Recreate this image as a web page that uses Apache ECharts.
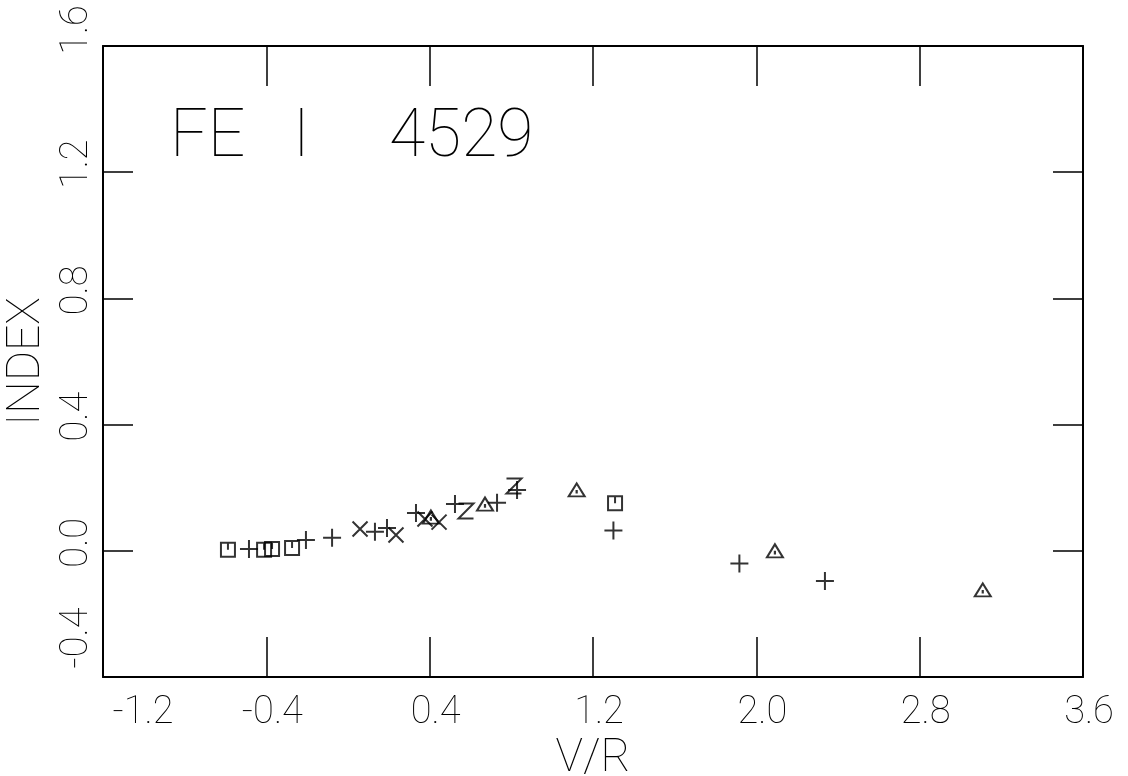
<!DOCTYPE html>
<html>
<head>
<meta charset="utf-8">
<script src="https://cdn.jsdelivr.net/npm/echarts@6/dist/echarts.min.js"></script>
<style>
html,body{margin:0;padding:0;background:#fff;}
#chart{width:1128px;height:776px;}
</style>
</head>
<body>
<div id="chart"></div>
<script>
// ---- data ----
const titleText = "FE   I     4529";
const xName = "V/R";
const yName = "INDEX";
const xTicks = [-1.2, -0.4, 0.4, 1.2, 2.0, 2.8, 3.6];
const yTicks = [-0.4, 0.0, 0.4, 0.8, 1.2, 1.6];

const plusPts = [
  [-0.485, 0.006], [-0.206, 0.034], [-0.078, 0.041], [0.132, 0.060],
  [0.191, 0.072], [0.333, 0.120], [0.524, 0.148], [0.730, 0.152],
  [0.828, 0.193], [1.300, 0.064], [1.917, -0.040], [2.336, -0.096]
];
const squarePts = [
  [-0.588, 0.003], [-0.411, 0.003], [-0.372, 0.006], [-0.274, 0.009], [1.308, 0.151]
];
const trianglePts = [
  [0.406, 0.107], [0.671, 0.148], [1.120, 0.193], [2.091, 0.000], [3.109, -0.124]
];
const xPts = [
  [0.059, 0.069], [0.235, 0.050], [0.377, 0.101], [0.446, 0.091]
];
const zPts = [
  [0.578, 0.126], [0.813, 0.205]
];

// ---- chart ----
const FONT = 'Roboto';
const chart = echarts.init(document.getElementById('chart'), null, {renderer: 'canvas'});
const markStyle = {color: 'transparent', borderColor: '#000', borderWidth: 2};
function sc(name, data, symbol, size) {
  return {
    type: 'scatter', name: name, data: data, symbol: symbol, symbolSize: size,
    itemStyle: markStyle, emphasis: {disabled: true}, silent: true
  };
}
const fmt = v => (Math.abs(v) < 1e-9 ? 0 : v).toFixed(1);
const near = (a, b) => Math.abs(a - b) < 1e-9;
const xFmt = v => (near(v, xTicks[0]) ? '{first|' : '{n|') + fmt(v) + '}';
const yFmt = v => (near(v, yTicks[0]) ? '{first|' : near(v, yTicks[yTicks.length - 1]) ? '{last|' : '{n|') + fmt(v) + '}';
const lineStyle = {color: '#000', width: 2};
const labelFont = {fontFamily: FONT, fontSize: 38, fontWeight: 100, color: '#000'};
const padL = p => Object.assign({padding: [0, 0, 0, p]}, labelFont);

chart.setOption({
  animation: false,
  backgroundColor: '#fff',
  title: {
    text: titleText, left: 165, top: 101,
    textStyle: {fontFamily: FONT, fontSize: 66, fontWeight: 100, color: '#000'}
  },
  grid: {left: 103, right: 45, top: 46, bottom: 99, containLabel: false, outerBoundsMode: 'none'},
  xAxis: [{
    type: 'value', min: -1.2, max: 3.6, position: 'bottom',
    name: xName, nameLocation: 'middle', nameGap: 56,
    nameTextStyle: {fontFamily: FONT, fontSize: 46, fontWeight: 100, color: '#000'},
    axisLine: {show: true, onZero: false, lineStyle: lineStyle},
    axisTick: {show: true, inside: true, length: 40, customValues: xTicks, lineStyle: {color: '#000', width: 1.5}},
    axisLabel: Object.assign({customValues: xTicks, formatter: xFmt, margin: 17,
      rich: {first: padL(80), n: padL(12)}}, labelFont),
    splitLine: {show: false}
  }, {
    type: 'value', min: -1.2, max: 3.6, position: 'top',
    axisLine: {show: true, onZero: false, lineStyle: lineStyle},
    axisTick: {show: true, inside: true, length: 40, customValues: xTicks, lineStyle: {color: '#000', width: 1.5}},
    axisLabel: {show: false}, splitLine: {show: false}
  }],
  yAxis: [{
    type: 'value', min: -0.4, max: 1.6, position: 'left',
    name: yName, nameLocation: 'middle', nameGap: 43,
    nameTextStyle: {fontFamily: FONT, fontSize: 46, fontWeight: 100, color: '#000'},
    axisLine: {show: true, onZero: false, lineStyle: lineStyle},
    axisTick: {show: true, inside: true, length: 30, customValues: yTicks, lineStyle: {color: '#000', width: 1.5}},
    axisLabel: Object.assign({customValues: yTicks, formatter: yFmt, rotate: 90, margin: 7,
      rich: {first: padL(78), last: padL(32), n: padL(16)}}, labelFont),
    splitLine: {show: false}
  }, {
    type: 'value', min: -0.4, max: 1.6, position: 'right',
    axisLine: {show: true, onZero: false, lineStyle: lineStyle},
    axisTick: {show: true, inside: true, length: 30, customValues: yTicks, lineStyle: {color: '#000', width: 1.5}},
    axisLabel: {show: false}, splitLine: {show: false}
  }],
  series: [
    sc('plus', plusPts, 'path://M0,5L10,5M5,0L5,10', 18),
    sc('square', squarePts, 'path://M0,0L10,0L10,10L0,10ZM5,0L5,5', 14),
    sc('triangle', trianglePts, 'path://M0,9L5,0L10,9ZM5,4.5L5,7', [16, 13]),
    sc('x', xPts, 'path://M0,0L10,10M10,0L0,10', 15),
    sc('z', zPts, 'path://M0,0L10,0L0,10L10,10', 15)
  ]
});
</script>
</body>
</html>
